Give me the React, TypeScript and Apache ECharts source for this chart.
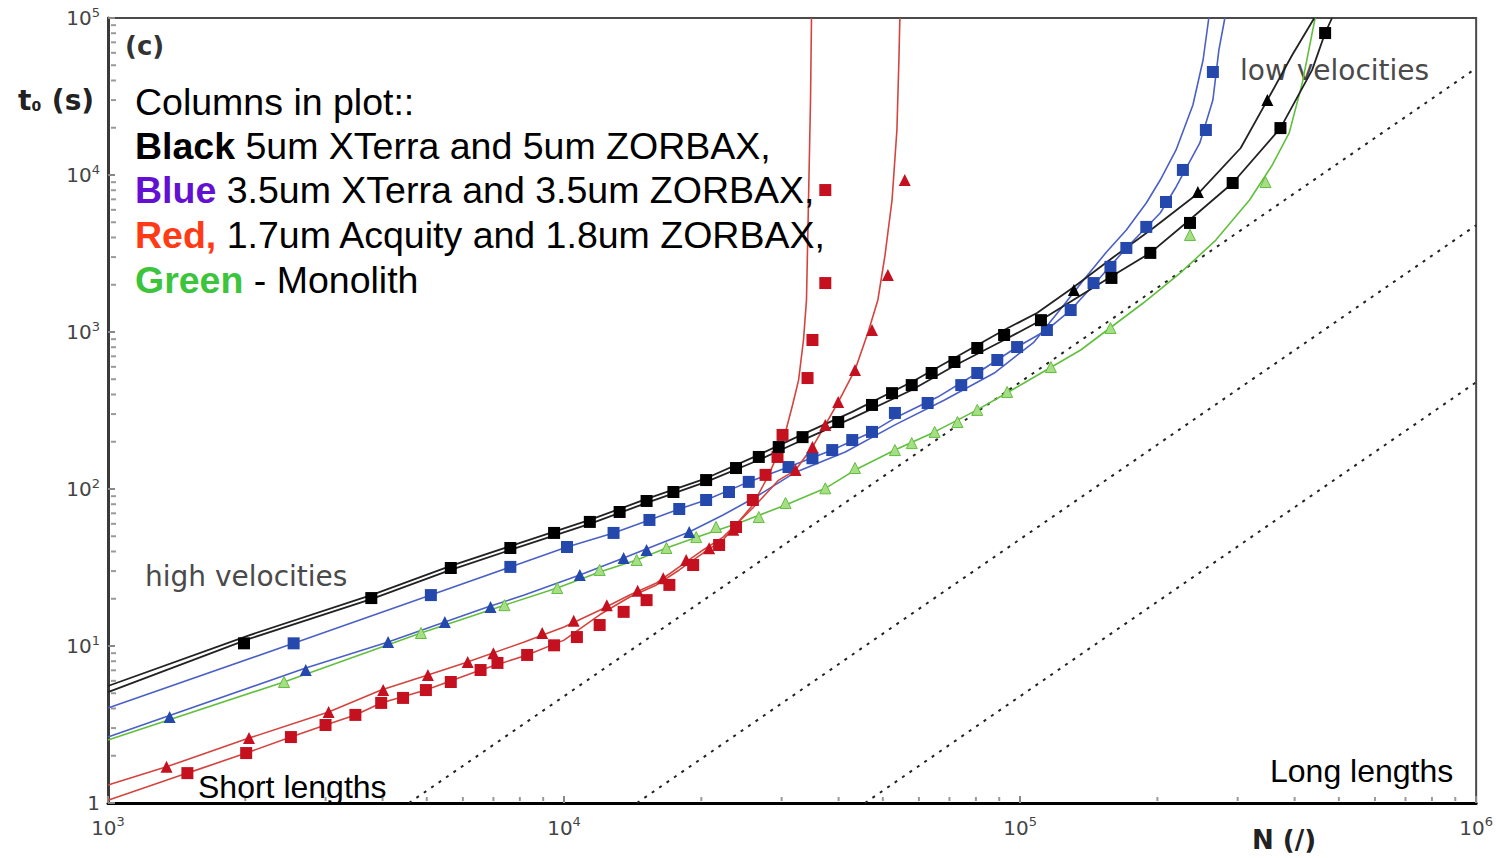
import React, { useEffect, useRef } from 'react';
import * as echarts from 'echarts';

// ---------- axis structure ----------
const xDecades = [1e3, 1e4, 1e5];
const yDecades = [1, 10, 100, 1e3, 1e4];
const minorSteps = [2, 3, 4, 5, 6, 7, 8, 9];

// ---------- data [N, t0] ----------
const blackSqCurve = [[1000,5.09],[2038,11.1],[3779,19.9],[5645,30.5],[7625,40.9],[11390,60],[15170,81.5],[20490,111],[26730,153],[33340,205],[42850,283],[57860,427],[71780,610],[92250,889],[108900,1150],[157800,2240],[193000,3190],[231100,4950],[292500,8890],[372300,19900],[437000,46700],[466500,80200],[483000,100000]];
const blackTriCurve = [[1000,5.56],[2038,11.7],[3779,21.1],[5645,32.4],[7625,43.3],[11390,63.5],[15170,86.5],[20490,117],[26730,165],[33340,223],[42850,310],[57860,480],[71780,683],[92250,1030],[108900,1320],[131200,1936],[160300,3000],[195900,4600],[247800,7800],[304600,14860],[348500,30000],[395100,58100],[441700,100000]];
const blackSqPts = [[1987,10.4],[3779,20.2],[5645,31.4],[7625,42.1],[9510,52.5],[11390,61.7],[13240,71.4],[15170,83.9],[17370,95.7],[20490,114],[23830,136],[26730,160],[29560,185],[33340,214],[39920,267],[47340,343],[52390,408],[57860,459],[63980,548],[71780,644],[80560,791],[92250,957],[111100,1190],[158600,2210],[193000,3190],[235800,4950],[292500,8890],[372300,19900],[466500,80200]];
const blackTriPts = [[131200,1850],[245400,7800],[348500,30000]];

const blueSqCurve = [[1000,4.03],[2553,10.4],[5105,21.1],[7625,31.9],[10150,42.7],[12840,52.5],[15390,63.5],[17890,74.6],[20490,85.1],[25410,111],[31060,138],[38730,177],[47340,231],[53150,283],[65950,385],[80560,548],[98500,802],[114500,1030],[129100,1380],[144900,1990],[171000,3430],[202900,5730],[219800,8390],[247800,16000],[264700,30000],[272800,62500],[281200,100000]];
const blueTriCurve = [[1000,2.63],[2714,7.24],[4114,10.6],[5478,14.2],[6797,17.7],[8180,21.1],[10830,28.3],[13510,36.4],[18810,53.2],[22320,68.3],[26330,88.9],[32190,128],[41370,172],[53150,256],[68300,369],[87780,548],[107300,863],[124700,1486],[137800,2144],[154700,3234],[171000,4467],[189100,6630],[202900,9290],[219800,14430],[239300,27900],[251900,54000],[259300,100000]];
const blueSqPts = [[2553,10.4],[5105,21.1],[7625,31.9],[10150,42.7],[12840,52.5],[15390,63.5],[17890,74.6],[20490,85.1],[23000,95.7],[25410,111],[31060,138],[35050,157],[38730,177],[42850,205],[47340,231],[53150,305],[62700,353],[74300,459],[80560,548],[89130,663],[98500,802],[114500,1030],[129100,1380],[144900,2050],[157800,2600],[171000,3430],[189100,4670],[208900,6730],[227500,10770],[255500,19350],[264700,45300]];
const blueTriPts = [[1365,3.53],[2714,7.03],[4114,10.6],[5478,14.2],[6900,17.7],[10830,28.3],[13510,36.4],[15170,40.9],[18810,53.2]];

const greenCurve = [[1000,2.52],[2432,5.9],[4855,12.1],[7400,18.2],[9660,23.4],[11970,29.6],[14430,35.3],[16770,42.1],[20180,50.9],[24170,60.7],[30600,79.1],[37400,101],[43450,132],[53150,177],[64960,231],[80560,319],[102000,473],[135800,768],[186200,1530],[224300,2370],[268700,3850],[318500,6930],[357300,11580],[389100,18520],[415600,38500],[443600,100000]];
const greenPts = [[2432,5.9],[4855,12.1],[7400,18.2],[9660,23.4],[11970,30.5],[14430,35.3],[16770,42.1],[19490,49.4],[21540,57.3],[26730,66.3],[30600,81.5],[37400,101],[43450,136],[53150,177],[57860,196],[64960,231],[72900,267],[80560,319],[93700,415],[116800,598],[157800,1060],[235800,4150],[345200,9020]];

const redSqCurve = [[1000,1.04],[1493,1.55],[2009,2.08],[2518,2.63],[2999,3.14],[3487,3.64],[3972,4.34],[4978,5.24],[6561,7.03],[8300,8.77],[10000,10.9],[11970,15.8],[13930,20.5],[15950,24.5],[17890,30.5],[20180,39.1],[22320,47.3],[25940,79.1],[28110,123],[29560,172],[30600,231],[31700,343],[32680,494],[33500,889],[34010,1600],[34360,6930],[34710,30000],[34880,100000]];
const redTriCurve = [[1000,1.3],[1344,1.7],[2038,2.59],[3046,3.8],[3972,5.24],[5029,6.53],[6053,7.8],[8180,10.6],[10000,13.2],[11970,16.9],[13930,21.1],[15950,25.2],[17890,31.9],[20180,40.9],[22320,49.4],[25940,75.7],[29560,114],[32190,132],[35050,185],[37400,256],[39920,358],[43450,573],[46440,1000],[48770,1600],[50560,3090],[52390,6930],[53690,19350],[54230,54000],[54500,100000]];
const redSqPts = [[1493,1.55],[2009,2.08],[2518,2.63],[2999,3.14],[3487,3.64],[3972,4.34],[4436,4.67],[4978,5.24],[5645,5.9],[6561,7.03],[7145,7.8],[8300,8.77],[9510,10.1],[10670,11.4],[11970,13.6],[13510,16.5],[15170,19.6],[17020,24.5],[19190,32.8],[21880,44],[23830,57.3],[25940,85.1],[27660,123],[29380,160],[30140,221],[34190,509],[35050,889],[37400,2050],[37400,8020]];
const redTriPts = [[1344,1.7],[2038,2.59],[3046,3.8],[4012,5.24],[5029,6.53],[6148,7.91],[7000,9.0],[8956,12.1],[10500,14.5],[12410,18.2],[14500,22.5],[16500,27],[18530,35.3],[20800,42],[23500,55],[32190,132],[35050,185],[37400,256],[39920,358],[43450,573],[47340,1030],[51290,2310],[55860,9290]];

// dotted reference lines t ~ N^2
const knoxLines = [
  [[4571, 1], [1e6, 47860]],
  [[14450, 1], [1e6, 4786]],
  [[45710, 1], [1e6, 478.6]],
];

const FONT = 'Liberation Sans, Arial, sans-serif';
const DV = 'DejaVu Sans, sans-serif';
const COL = {
  blueLine: '#4a60c4',
  blueMark: '#2448ac',
  redLine: '#d4443e',
  redMark: '#c4101f',
  greenLine: '#62bf3e',
  greenMark: '#a6de86',
};

function curve(data: number[][], color: string, width = 1.6, z = 2) {
  return { type: 'line', data, symbol: 'none', showSymbol: false, lineStyle: { color, width }, z, silent: true };
}
function pts(data: number[][], symbol: string, color: string, size: number, z = 3, border?: string) {
  return {
    type: 'scatter', data, symbol, symbolSize: size, z, silent: true,
    itemStyle: { color, opacity: 1, borderColor: border || color, borderWidth: border ? 1 : 0 },
  };
}

function supLabel(v: number) {
  const e = Math.round(Math.log10(v));
  if (e === 0) return '1';
  return '10{sup|' + e + '}';
}

const TXT = 37.5;

export default function App() {
  const ref = useRef<HTMLDivElement>(null);
  useEffect(() => {
    document.body.style.margin = '0';
    document.body.style.overflow = 'hidden';
    const chart = echarts.init(ref.current!, null, { renderer: 'svg', width: 1496, height: 858 });
    const minorData: number[][] = [];
    xDecades.forEach((d) => minorSteps.forEach((s) => minorData.push([d * s, 1, 0])));
    yDecades.forEach((d) => minorSteps.forEach((s) => minorData.push([1000, d * s, 1])));

    const labelRich = { sup: { fontSize: 13, fontFamily: DV, color: '#444', padding: [0, 0, 12, 0] } };

    const option: any = {
      animation: false,
      backgroundColor: '#fff',
      grid: { left: 108, right: 11, top: 18, bottom: 55, show: true, borderColor: '#4a4a4a', borderWidth: 2, backgroundColor: 'transparent' },
      xAxis: {
        type: 'log', logBase: 10, min: 1e3, max: 1e6,
        axisLine: { show: true, onZero: false, lineStyle: { color: '#000', width: 3 } },
        axisTick: { show: true, inside: true, length: 7, lineStyle: { color: '#888', width: 2 } },
        splitLine: { show: false },
        axisLabel: { formatter: supLabel, fontSize: 20, fontFamily: DV, color: '#444', margin: 12, rich: labelRich },
      },
      yAxis: {
        type: 'log', logBase: 10, min: 1, max: 1e5,
        axisLine: { show: true, onZero: false, lineStyle: { color: '#3a3a3a', width: 3 } },
        axisTick: { show: true, inside: true, length: 7, lineStyle: { color: '#888', width: 2 } },
        splitLine: { show: false },
        axisLabel: { formatter: supLabel, fontSize: 20, fontFamily: DV, color: '#444', margin: 8, rich: labelRich },
      },
      series: [
        {
          type: 'custom', silent: true, data: minorData, encode: { x: 0, y: 1 }, z: 1, clip: false,
          renderItem: (params: any, api: any) => {
            const p = api.coord([api.value(0), api.value(1)]);
            const isY = api.value(2) === 1;
            return {
              type: 'line',
              shape: isY ? { x1: p[0] + 3, y1: p[1], x2: p[0] + 8, y2: p[1] } : { x1: p[0], y1: p[1] - 2, x2: p[0], y2: p[1] - 6 },
              style: { stroke: '#999', lineWidth: 2 },
            };
          },
        },
        ...knoxLines.map((d) => ({ type: 'line', data: d, symbol: 'none', silent: true, z: 1, lineStyle: { color: '#222', width: 2, type: [3, 6] } })),
        curve(greenCurve, COL.greenLine),
        curve(blueTriCurve, COL.blueLine),
        curve(blueSqCurve, COL.blueLine),
        curve(redSqCurve, COL.redLine),
        curve(redTriCurve, COL.redLine),
        curve(blackSqCurve, '#222', 1.8),
        curve(blackTriCurve, '#222', 1.8),
        pts(greenPts, 'triangle', COL.greenMark, 11, 3, COL.greenLine),
        pts(blueTriPts, 'triangle', COL.blueMark, 12),
        pts(blueSqPts, 'rect', COL.blueMark, 12),
        pts(redSqPts, 'rect', COL.redMark, 12),
        pts(redTriPts, 'triangle', COL.redMark, 12),
        pts(blackSqPts, 'rect', '#000', 12),
        pts(blackTriPts, 'triangle', '#000', 12),
      ],
      graphic: [
        { type: 'text', x: 125, y: 46, z: 10, style: { text: '(c)', fill: '#333', fontSize: 26, fontWeight: 'bold', fontFamily: DV, verticalAlign: 'middle', textVerticalAlign: 'middle' } },
        { type: 'text', x: 135, y: 102, z: 10, style: { text: 'Columns in plot::', fill: '#000', fontSize: TXT, fontFamily: FONT, verticalAlign: 'middle', textVerticalAlign: 'middle' } },
        { type: 'text', x: 135, y: 146, z: 10, style: { text: '{b|Black} 5um XTerra and 5um ZORBAX,', fill: '#000', fontSize: TXT, fontFamily: FONT, verticalAlign: 'middle', textVerticalAlign: 'middle', rich: { b: { fontWeight: 'bold', fill: '#000', fontSize: TXT, fontFamily: FONT } } } },
        { type: 'text', x: 135, y: 190, z: 10, style: { text: '{b|Blue} 3.5um XTerra and 3.5um ZORBAX,', fill: '#000', fontSize: TXT, fontFamily: FONT, verticalAlign: 'middle', textVerticalAlign: 'middle', rich: { b: { fontWeight: 'bold', fill: '#6410d2', fontSize: TXT, fontFamily: FONT } } } },
        { type: 'text', x: 135, y: 235, z: 10, style: { text: '{b|Red,} 1.7um Acquity and 1.8um ZORBAX,', fill: '#000', fontSize: TXT, fontFamily: FONT, verticalAlign: 'middle', textVerticalAlign: 'middle', rich: { b: { fontWeight: 'bold', fill: '#ff3a14', fontSize: TXT, fontFamily: FONT } } } },
        { type: 'text', x: 135, y: 280, z: 10, style: { text: '{b|Green} - Monolith', fill: '#000', fontSize: TXT, fontFamily: FONT, verticalAlign: 'middle', textVerticalAlign: 'middle', rich: { b: { fontWeight: 'bold', fill: '#3cc43c', fontSize: TXT, fontFamily: FONT } } } },
        { type: 'text', x: 145, y: 576, z: 10, style: { text: 'high velocities', fill: '#4a4a4a', fontSize: 28, fontFamily: DV, verticalAlign: 'middle', textVerticalAlign: 'middle' } },
        { type: 'text', x: 1240, y: 70, z: 0, style: { text: 'low velocities', fill: '#4a4a4a', fontSize: 28, fontFamily: DV, verticalAlign: 'middle', textVerticalAlign: 'middle' } },
        { type: 'text', x: 198, y: 787, z: 10, style: { text: 'Short lengths', fill: '#000', fontSize: 32, fontFamily: FONT, verticalAlign: 'middle', textVerticalAlign: 'middle' } },
        { type: 'text', x: 1270, y: 771, z: 10, style: { text: 'Long lengths', fill: '#000', fontSize: 32, fontFamily: FONT, verticalAlign: 'middle', textVerticalAlign: 'middle' } },
        { type: 'text', x: 18, y: 100, z: 10, style: { text: '{t|t}{s|0}{t| (s)}', fill: '#222', fontFamily: DV, verticalAlign: 'middle', textVerticalAlign: 'middle', rich: { t: { fontSize: 28, fontWeight: 'bold', fill: '#222', fontFamily: DV }, s: { fontSize: 14, fontWeight: 'bold', fill: '#222', fontFamily: DV, padding: [12, 1, 0, 0] } } } },
        { type: 'text', x: 1252, y: 840, z: 10, style: { text: 'N (/)', fill: '#222', fontSize: 26, fontWeight: 'bold', fontFamily: DV, verticalAlign: 'middle', textVerticalAlign: 'middle' } },
      ],
    };
    chart.setOption(option);
    return () => chart.dispose();
  }, []);
  return <div ref={ref} style={{ position: 'fixed', left: 0, top: 0, width: 1496, height: 858 }} />;
}
